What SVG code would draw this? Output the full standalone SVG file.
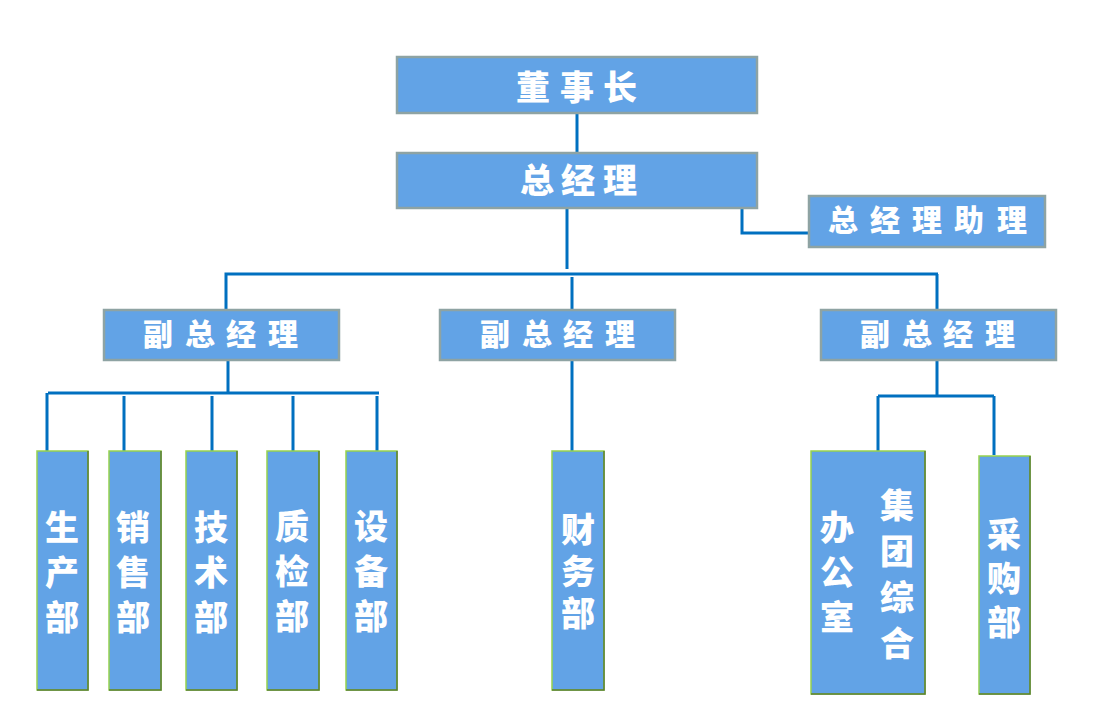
<svg xmlns="http://www.w3.org/2000/svg" width="1102" height="711" viewBox="0 0 1102 711">
<style>
.hb{fill:#62a3e6;stroke:#8ea3a3;stroke-width:2.5}
.vb{fill:#62a3e6;stroke:#96d24e;stroke-width:1.5}
.ve{fill:none;stroke:#5a7d36;stroke-width:1.5}
.c{fill:none;stroke:#0070c0;stroke-width:3}
.t{fill:#ffffff;font-family:"Noto Sans CJK SC","Noto Sans CJK JP",sans-serif;font-weight:900;text-anchor:middle;dominant-baseline:central}
.t1{font-size:34px}
.t2{font-size:30px}
.v{fill:#ffffff;font-family:"Noto Sans CJK SC","Noto Sans CJK JP",sans-serif;font-weight:900;font-size:34px;text-anchor:middle;writing-mode:vertical-rl}
</style>
<rect width="1102" height="711" fill="#ffffff"/>
<g id="connectors">
<path class="c" d="M577,113 V153"/>
<path class="c" d="M567,208 V269"/>
<path class="c" d="M742,208 V233 H809"/>
<path class="c" d="M226,309 V274 H938 M572,277 V309 M937,274 V309"/>
<path class="c" d="M228,360 V393 M48,393 H379 M47,393 V452 M124,396 V452 M212,396 V452 M293,396 V452 M377,396 V452"/>
<path class="c" d="M572,360 V451"/>
<path class="c" d="M937,360 V396 M878,396 H994 M878,396 V451 M994,396 V455"/>
</g>
<g id="n-dsz"><rect class="hb" x="397" y="57" width="360" height="56"/>
<text class="t t1" x="533" y="85">董</text><text class="t t1" x="577" y="85">事</text><text class="t t1" x="620" y="85">长</text></g>
<g id="n-zjl"><rect class="hb" x="397" y="153" width="360" height="55"/>
<text class="t t1" x="537" y="178">总</text><text class="t t1" x="578" y="178">经</text><text class="t t1" x="620" y="178">理</text></g>
<g id="n-zjlzl"><rect class="hb" x="809" y="196" width="236" height="51"/>
<text class="t t2" x="843" y="218">总</text><text class="t t2" x="885" y="218">经</text><text class="t t2" x="927" y="218">理</text><text class="t t2" x="969" y="218">助</text><text class="t t2" x="1012" y="218">理</text></g>
<g id="n-fzjl1"><rect class="hb" x="104" y="310" width="235" height="50"/>
<text class="t t2" x="158" y="332">副</text><text class="t t2" x="200" y="332">总</text><text class="t t2" x="241" y="332">经</text><text class="t t2" x="283" y="332">理</text></g>
<g id="n-fzjl2"><rect class="hb" x="440" y="310" width="235" height="50"/>
<text class="t t2" x="495" y="332">副</text><text class="t t2" x="537" y="332">总</text><text class="t t2" x="578" y="332">经</text><text class="t t2" x="620" y="332">理</text></g>
<g id="n-fzjl3"><rect class="hb" x="821" y="310" width="235" height="50"/>
<text class="t t2" x="875" y="332">副</text><text class="t t2" x="917" y="332">总</text><text class="t t2" x="958" y="332">经</text><text class="t t2" x="1000" y="332">理</text></g>
<g id="n-scb"><rect class="vb" x="37" y="451" width="51" height="239"/><path class="ve" d="M88,451 V690 H37"/>
<text class="v" x="62" y="578" letter-spacing="11">生产部</text></g>
<g id="n-xsb"><rect class="vb" x="109" y="451" width="52" height="239"/><path class="ve" d="M161,451 V690 H109"/>
<text class="v" x="133" y="578" letter-spacing="11">销售部</text></g>
<g id="n-jsb"><rect class="vb" x="186" y="451" width="51" height="239"/><path class="ve" d="M237,451 V690 H186"/>
<text class="v" x="211" y="578" letter-spacing="11">技术部</text></g>
<g id="n-zjb"><rect class="vb" x="267" y="451" width="52" height="239"/><path class="ve" d="M319,451 V690 H267"/>
<text class="v" x="292" y="577" letter-spacing="11">质检部</text></g>
<g id="n-sbb"><rect class="vb" x="346" y="451" width="51" height="239"/><path class="ve" d="M397,451 V690 H346"/>
<text class="v" x="371" y="577" letter-spacing="11">设备部</text></g>
<g id="n-cwb"><rect class="vb" x="552" y="451" width="52" height="239"/><path class="ve" d="M604,451 V690 H552"/>
<text class="v" x="578" y="575" letter-spacing="8">财务部</text></g>
<g id="n-bgs"><rect class="vb" x="811" y="451" width="114" height="243"/><path class="ve" d="M925,451 V694 H811"/>
<text class="v" x="837" y="578" letter-spacing="11">办公室</text>
<text class="v" x="897" y="580" letter-spacing="12">集团综合</text></g>
<g id="n-cgb"><rect class="vb" x="979" y="456" width="51" height="238"/><path class="ve" d="M1030,456 V694 H979"/>
<text class="v" x="1004" y="583" letter-spacing="10">采购部</text></g>
</svg>
